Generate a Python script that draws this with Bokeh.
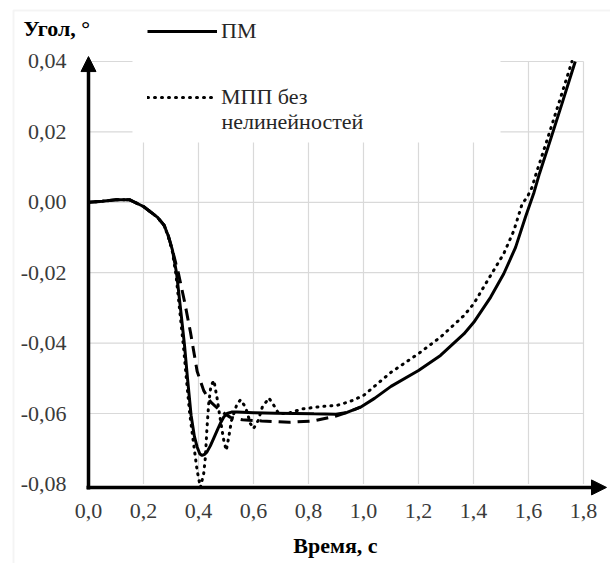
from bokeh.plotting import figure
from bokeh.models import (Range1d, FixedTicker, CustomJSTickFormatter, Legend, LegendItem,
                          Label, Arrow, NormalHead, BoxAnnotation)
from bokeh.embed import file_html
from bokeh.resources import INLINE

# ---------------- data ----------------
x_ticks = [0.0, 0.2, 0.4, 0.6, 0.8, 1.0, 1.2, 1.4, 1.6, 1.8]
y_ticks = [-0.08, -0.06, -0.04, -0.02, 0.0, 0.02, 0.04]

# ПМ (solid)
x_pm = [0.0, 0.05, 0.1, 0.15, 0.2, 0.25, 0.275, 0.29, 0.305, 0.32, 0.335, 0.349, 0.36, 0.373,
        0.385, 0.395, 0.405, 0.413, 0.422, 0.431, 0.443, 0.456, 0.468, 0.48, 0.492, 0.504, 0.52,
        0.54, 0.6, 0.68, 0.75, 0.82, 0.9, 0.94, 0.989, 1.04, 1.1, 1.2, 1.28, 1.365, 1.401, 1.462,
        1.51, 1.553, 1.589, 1.62, 1.64, 1.68, 1.72, 1.77]
y_pm = [0.0, 0.0003, 0.0007, 0.0007, -0.0012, -0.0042, -0.0065, -0.0095, -0.0135, -0.02, -0.0305,
        -0.0405, -0.05, -0.0605, -0.0665, -0.0695, -0.0715, -0.0719, -0.0716, -0.0709, -0.0692,
        -0.0669, -0.0648, -0.0627, -0.061, -0.06, -0.0596, -0.0596, -0.0598, -0.0599, -0.06,
        -0.0601, -0.0602, -0.0597, -0.0582, -0.0557, -0.0523, -0.0478, -0.0435, -0.0374, -0.0341,
        -0.027, -0.0203, -0.0128, -0.0042, 0.0028, 0.0082, 0.0178, 0.0276, 0.04]

# МПП без нелинейностей (dotted)
x_mpp = [0.0, 0.05, 0.1, 0.15, 0.2, 0.25, 0.275, 0.29, 0.305, 0.318, 0.332, 0.346, 0.357, 0.368,
         0.382, 0.395, 0.407, 0.419, 0.425, 0.431, 0.437, 0.445, 0.456, 0.467, 0.48, 0.492, 0.501,
         0.51, 0.52, 0.54, 0.553, 0.571, 0.589, 0.6, 0.617, 0.632, 0.656, 0.674, 0.692, 0.728,
         0.777, 0.85, 0.904, 0.95, 1.0, 1.1, 1.2, 1.28, 1.365, 1.401, 1.462, 1.51, 1.547, 1.577,
         1.595, 1.613, 1.628, 1.668, 1.708, 1.758]
y_mpp = [0.0, 0.0003, 0.0007, 0.0007, -0.0012, -0.0042, -0.0066, -0.0097, -0.014, -0.0205, -0.031,
         -0.0415, -0.051, -0.06, -0.0685, -0.0762, -0.081, -0.077, -0.0725, -0.0639, -0.0573,
         -0.0522, -0.0506, -0.0554, -0.062, -0.0677, -0.0705, -0.0667, -0.062, -0.0573, -0.0561,
         -0.0582, -0.0629, -0.0643, -0.062, -0.0582, -0.0556, -0.0577, -0.0601, -0.0599, -0.0587,
         -0.058, -0.0577, -0.0566, -0.0549, -0.0483, -0.043, -0.0383, -0.0322, -0.0288, -0.0208,
         -0.0146, -0.008, -0.0004, 0.0014, 0.0043, 0.0082, 0.0178, 0.0276, 0.04]

# third model (dashed)
x_d = [0.0, 0.05, 0.1, 0.15, 0.2, 0.25, 0.275, 0.29, 0.305, 0.318, 0.328, 0.35, 0.371, 0.395,
       0.419, 0.444, 0.477, 0.516, 0.56, 0.63, 0.73, 0.82, 0.9, 0.94, 0.989]
y_d = [0.0, 0.0003, 0.0007, 0.0007, -0.0012, -0.0042, -0.0065, -0.0095, -0.0135, -0.0175, -0.0205,
       -0.0285, -0.037, -0.048, -0.0535, -0.0567, -0.0591, -0.0611, -0.0618, -0.0621, -0.0625,
       -0.0621, -0.0607, -0.0597, -0.0582]

FONT = "Liberation Serif"
GRID = "#d9d9d9"
TICKC = "#3a3a3a"

W, H = 610, 563
X_AXIS_Y = -0.081          # where the horizontal axis line sits
X_END, Y_END = 1.8836, 0.0414   # arrow tips

p = figure(width=W, height=H, x_range=Range1d(-0.32, 1.898182),
           y_range=Range1d(-0.1026136, 0.0573295),
           output_backend="svg", toolbar_location=None, min_border=0)
p.outline_line_color = None
p.background_fill_color = "white"
p.border_fill_color = "white"
p.xgrid.visible = False
p.ygrid.visible = False

# grid lines
gx = [t for t in x_ticks if t > 0]
p.segment(x0=gx, y0=[y_ticks[0]] * len(gx), x1=gx, y1=[y_ticks[-1]] * len(gx),
          line_color=GRID, line_width=1.2)
gy = [t for t in y_ticks if t > y_ticks[0]]
p.segment(x0=[x_ticks[0]] * len(gy), y0=gy, x1=[x_ticks[-1]] * len(gy), y1=gy,
          line_color=GRID, line_width=1.2)

# series
r_d = p.line(x_d, y_d, line_color="black", line_width=3, line_dash="12 7")
r_mpp = p.line(x_mpp, y_mpp, line_color="black", line_width=3, line_dash="1 6",
               line_cap="round")
r_pm = p.line(x_pm, y_pm, line_color="black", line_width=3)

# axes, drawn at fixed positions inside the plot area
for ax, ticks, fmt in ((p.xaxis, x_ticks, 1), (p.yaxis, y_ticks, 2)):
    ax.ticker = FixedTicker(ticks=ticks)
    ax.formatter = CustomJSTickFormatter(code="return tick.toFixed(%d).replace('.', ',');" % fmt)
    ax.axis_line_width = 3.5
    ax.axis_line_color = "black"
    ax.major_tick_line_color = None
    ax.minor_tick_line_color = None
    ax.major_tick_out = 0
    ax.major_tick_in = 0
    ax.major_label_text_font = FONT
    ax.major_label_text_font_size = "22px"
    ax.major_label_text_color = TICKC
p.xaxis.fixed_location = X_AXIS_Y
p.yaxis.fixed_location = 0
p.xaxis.bounds = (-0.0064, 1.8545)
p.yaxis.bounds = (-0.0815, 0.0386)
p.xaxis.major_label_standoff = 17
p.yaxis.major_label_standoff = 22

# arrow heads
p.add_layout(Arrow(end=NormalHead(size=15, fill_color="black", line_color="black", line_width=1),
                   x_start=0, y_start=0.03, x_end=0, y_end=Y_END, line_alpha=0))
p.add_layout(Arrow(end=NormalHead(size=15, fill_color="black", line_color="black", line_width=1),
                   x_start=1.7, y_start=X_AXIS_Y, x_end=X_END, y_end=X_AXIS_Y, line_alpha=0))

# white legend area (hides the grid behind the legend)
p.add_layout(BoxAnnotation(left=132, right=500, top=550, bottom=421,
                           left_units="screen", right_units="screen",
                           top_units="screen", bottom_units="screen",
                           fill_color="white", fill_alpha=1, line_color=None))

legend = Legend(items=[LegendItem(label="ПМ", renderers=[r_pm]),
                       LegendItem(label="МПП без", renderers=[r_mpp])],
                location=(147, 452), orientation="vertical",
                label_text_font=FONT, label_text_font_size="22px", label_text_color="#262626",
                glyph_width=70, glyph_height=28, label_height=28, label_standoff=4, spacing=38,
                padding=0, margin=0,
                border_line_color=None, background_fill_alpha=0)
p.add_layout(legend)
p.add_layout(Label(x=221, y=442, x_units="screen", y_units="screen", text="нелинейностей",
                   text_font=FONT, text_font_size="22px", text_color="#262626",
                   text_baseline="alphabetic"))

# axis titles
p.add_layout(Label(x=23, y=535, x_units="screen", y_units="screen", text="Угол, °",
                   text_font=FONT, text_font_size="22px", text_font_style="bold",
                   text_color="black", text_baseline="alphabetic"))
p.add_layout(Label(x=0.898, y=18, x_units="data", y_units="screen", text="Время, с",
                   text_font=FONT, text_font_size="22px", text_font_style="bold",
                   text_color="black", text_align="center", text_baseline="alphabetic"))

# outer light border of the chart area
p.add_layout(BoxAnnotation(left=13, right=900, top=553, bottom=-400,
                           left_units="screen", right_units="screen",
                           top_units="screen", bottom_units="screen",
                           fill_alpha=0, line_color=GRID, line_width=2))

open("out.html", "w").write(file_html(p, INLINE))
